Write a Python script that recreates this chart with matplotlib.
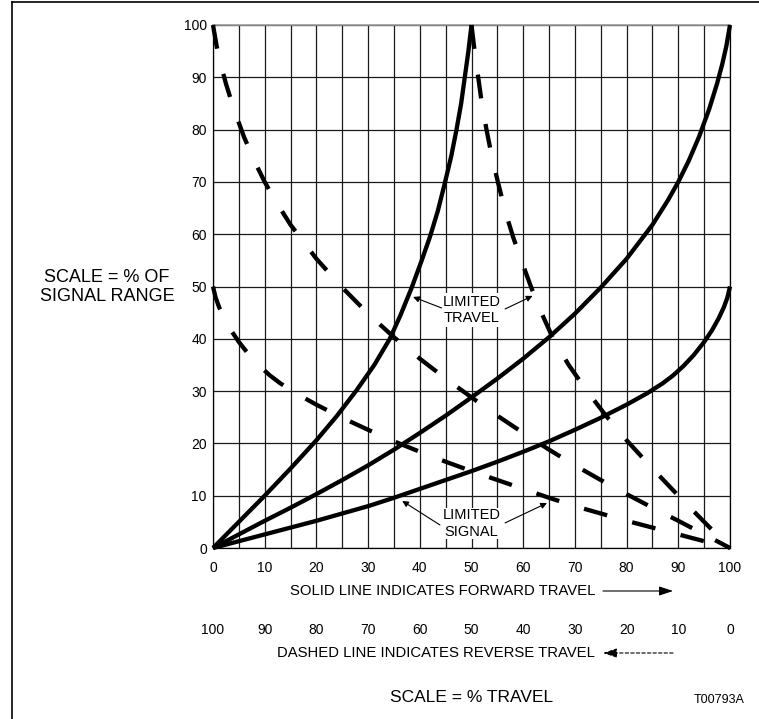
import numpy as np
import matplotlib
matplotlib.use('Agg')
from matplotlib import pyplot as plt
from matplotlib.lines import Line2D

plt.rcParams['font.family'] = ['Liberation Sans', 'DejaVu Sans']

W, H = 759, 719

# tick values / labels
travel_ticks = list(range(0, 101, 10))
signal_ticks = list(range(0, 101, 10))
reverse_labels = [str(v) for v in range(0, 101, 10)]

# solid curves (% travel, % signal)
limited_travel_x = [0, 5, 10, 15, 20, 24, 27.8, 31.2, 34.2, 36.3, 38.4, 40.3, 42, 43.5, 44.9, 46.1, 47.1, 48, 48.7, 49.4, 50]
limited_travel_y = [0, 5, 10, 15.2, 20.6, 25.3, 30.2, 35, 40, 44.6, 49.7, 54.8, 59.6, 64.5, 70, 75, 80, 85, 90, 95, 100]

full_x = [0, 5, 10, 15, 20, 25, 30, 35, 40, 45, 50, 55, 60, 65, 70, 75, 80, 85, 88, 90, 92, 94, 96, 97.5, 98.5, 99.3, 100]
full_y = [0, 2.6, 5.2, 7.7, 10.3, 13.0, 15.8, 18.8, 22.0, 25.3, 28.8, 32.4, 36.2, 40.3, 44.8, 49.8, 55.3, 61.8,
          66.5, 70, 74, 78.6, 84, 88.8, 92.5, 96, 100]

limited_signal_x = [0, 5, 10, 15, 20, 25, 30, 35, 40, 45, 50, 55, 60, 65, 70, 75, 80, 84, 87, 89, 91, 93, 95,
                    96.5, 97.8, 98.8, 99.5, 100]
limited_signal_y = [0, 1.3, 2.6, 3.9, 5.2, 6.6, 8.0, 9.6, 11.3, 13.0, 14.7, 16.5, 18.4, 20.4, 22.6, 24.9, 27.4,
                    29.6, 31.5, 33.0, 34.8, 36.9, 39.4, 41.6, 43.9, 46.0, 47.9, 50]

curves = [(limited_travel_x, limited_travel_y),
          (full_x, full_y),
          (limited_signal_x, limited_signal_y)]


def fx(px):
    return px / W


def fy(py):
    return 1 - py / H


fig = plt.figure(figsize=(W / 100, H / 100), dpi=100)
ax = fig.add_axes([fx(213), fy(548), 517 / W, 523 / H])
ax.set_xlim(0, 100)
ax.set_ylim(0, 100)
ax.set_xticks(travel_ticks)
ax.set_xticks(range(0, 101, 5), minor=True)
ax.set_yticks(signal_ticks)
ax.set_axisbelow(True)
ax.grid(which='both', color='#1a1a1a', lw=0.9)
ax.tick_params(which='both', length=0, labelsize=10)
ax.tick_params(axis='x', pad=9)
ax.tick_params(axis='y', pad=4.5)
for side in ['left', 'bottom', 'right']:
    ax.spines[side].set_linewidth(0.9)
ax.spines['top'].set_color('#999999')
ax.spines['top'].set_linewidth(1.2)

# reverse travel axis
ax2 = ax.twiny()
ax2.set_xlim(100, 0)
ax2.set_xticks(travel_ticks)
ax2.set_xticklabels(reverse_labels)
ax2.xaxis.set_ticks_position('bottom')
ax2.spines['bottom'].set_position(('outward', 62.3 * 0.72))
for side in ax2.spines:
    ax2.spines[side].set_visible(False)
ax2.tick_params(which='both', length=0, labelsize=10, pad=9)

lw = 3.1
for cx, cy in curves:
    ax.plot(cx, cy, color='black', lw=lw, solid_capstyle='butt', solid_joinstyle='round',
            clip_on=False, zorder=4)
    # dashed = same characteristic for reverse travel, drawn from the top end
    ax2.plot(cx[::-1], cy[::-1], color='black', lw=lw, dash_capstyle='butt',
             linestyle=(0, (17.3 / lw, 18.7 / lw)), clip_on=False, zorder=4)

# annotations
arrow = dict(arrowstyle='-|>', lw=0.8, color='black', mutation_scale=9, shrinkA=0, shrinkB=0)
ax.text(50, 45.5, 'LIMITED\nTRAVEL', ha='center', va='center', fontsize=10.5,
        bbox=dict(fc='white', ec='none', pad=1.5), zorder=3)
ax.annotate('', xy=(38.7, 48), xytext=(44.2, 45.9), arrowprops=arrow)
ax.annotate('', xy=(61.8, 48.2), xytext=(56.5, 45.7), arrowprops=arrow)

ax.text(50, 4.7, 'LIMITED\nSIGNAL', ha='center', va='center', fontsize=10.5,
        bbox=dict(fc='white', ec='none', pad=0.5), zorder=3)
ax.annotate('', xy=(36.6, 9.0), xytext=(43.9, 4.4), arrowprops=arrow)
ax.annotate('', xy=(64.6, 8.6), xytext=(56.5, 4.8), arrowprops=arrow)

# left label
fig.text(fx(107), fy(287), 'SCALE = % OF\nSIGNAL RANGE', ha='center', va='center',
         fontsize=13, linespacing=1.1)

# bottom legend texts
fig.text(fx(595), fy(591), 'SOLID LINE INDICATES FORWARD TRAVEL', ha='right', va='center', fontsize=10.7)
fig.text(fx(595), fy(653), 'DASHED LINE INDICATES REVERSE TRAVEL', ha='right', va='center', fontsize=10.7)
fig.patches.append(matplotlib.patches.FancyArrowPatch(
    (fx(603), fy(591)), (fx(673), fy(591)), transform=fig.transFigure,
    arrowstyle='-|>,head_length=0.6,head_width=0.2', mutation_scale=14, lw=0.8, color='black',
    shrinkA=0, shrinkB=0))
fig.patches.append(matplotlib.patches.FancyArrowPatch(
    (fx(673), fy(653)), (fx(603), fy(653)), transform=fig.transFigure,
    arrowstyle='-|>,head_length=0.6,head_width=0.2', mutation_scale=14, lw=0.8, color='black',
    linestyle=(0, (3, 2)), shrinkA=0, shrinkB=0))

fig.text(fx(471.5), fy(698), 'SCALE = % TRAVEL', ha='center', va='center', fontsize=12.5)
fig.text(fx(719), fy(700), 'T00793A', ha='center', va='center', fontsize=9)

# frame around the figure
fig.add_artist(Line2D([fx(12), fx(12)], [0, fy(2)], transform=fig.transFigure, color='black', lw=1.2))
fig.add_artist(Line2D([fx(12), 1], [fy(2), fy(2)], transform=fig.transFigure, color='black', lw=1.2))

fig.savefig('out.png', dpi=100)
